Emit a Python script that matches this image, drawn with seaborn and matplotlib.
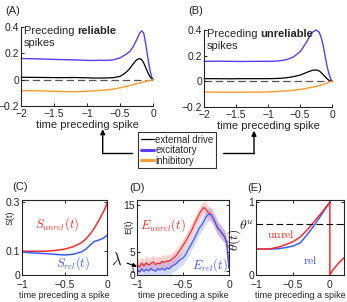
import matplotlib
matplotlib.use("Agg")
import matplotlib.pyplot as plt
from matplotlib.lines import Line2D
from matplotlib.patches import FancyArrowPatch
import seaborn as sns
import numpy as np

# ---- panel A / B : spike-triggered inputs ----
t_ab = [-2.0, -1.8, -1.6, -1.4, -1.2, -1.0, -0.9, -0.8, -0.7, -0.6, -0.5, -0.45,
        -0.4, -0.35, -0.3, -0.25, -0.2, -0.17, -0.14, -0.11, -0.08, -0.05, -0.02, 0.0]
exc_rel = [0.160, 0.158, 0.155, 0.152, 0.150, 0.146, 0.145, 0.147, 0.146, 0.150, 0.165, 0.180,
           0.195, 0.215, 0.250, 0.300, 0.355, 0.370, 0.350, 0.270, 0.170, 0.080, 0.020, 0.0]
ext_rel = [0.018, 0.017, 0.016, 0.015, 0.016, 0.014, 0.012, 0.012, 0.013, 0.015, 0.025, 0.040,
           0.060, 0.085, 0.120, 0.150, 0.160, 0.150, 0.125, 0.090, 0.055, 0.025, 0.007, 0.0]
inh_rel = [-0.085, -0.084, -0.087, -0.090, -0.092, -0.088, -0.085, -0.083, -0.078, -0.072, -0.062, -0.057,
           -0.050, -0.044, -0.038, -0.031, -0.025, -0.021, -0.017, -0.013, -0.009, -0.006, -0.002, 0.0]
exc_unrel = [0.155, 0.156, 0.155, 0.154, 0.155, 0.155, 0.156, 0.160, 0.170, 0.190, 0.230, 0.265,
             0.305, 0.350, 0.385, 0.400, 0.380, 0.340, 0.280, 0.200, 0.120, 0.060, 0.015, 0.0]
ext_unrel = [0.020, 0.020, 0.019, 0.020, 0.020, 0.020, 0.021, 0.023, 0.028, 0.036, 0.048, 0.058,
             0.068, 0.078, 0.086, 0.088, 0.080, 0.068, 0.052, 0.036, 0.020, 0.008, 0.002, 0.0]
inh_unrel = [-0.084, -0.085, -0.086, -0.085, -0.085, -0.083, -0.081, -0.078, -0.074, -0.070, -0.064, -0.060,
             -0.055, -0.050, -0.045, -0.040, -0.034, -0.030, -0.026, -0.020, -0.014, -0.008, -0.003, 0.0]

# ---- panel C : S(t) ----
t_c = [-1.0, -0.9, -0.8, -0.7, -0.6, -0.5, -0.4, -0.3, -0.25, -0.2, -0.15, -0.1, -0.05, -0.02, 0.0]
s_unrel = [0.100, 0.099, 0.099, 0.100, 0.103, 0.108, 0.118, 0.135, 0.150, 0.170, 0.195, 0.225, 0.258, 0.280, 0.300]
s_rel = [0.096, 0.093, 0.091, 0.089, 0.086, 0.084, 0.087, 0.097, 0.108, 0.125, 0.140, 0.145, 0.152, 0.160, 0.165]

# ---- panel D : E(t) ----
t_d = [-1.0, -0.975, -0.95, -0.925, -0.9, -0.875, -0.85, -0.825, -0.8, -0.775,
       -0.75, -0.725, -0.7, -0.675, -0.65, -0.625, -0.6, -0.575, -0.55, -0.525,
       -0.5, -0.475, -0.45, -0.425, -0.4, -0.375, -0.35, -0.325, -0.3, -0.275,
       -0.25, -0.225, -0.2, -0.175, -0.15, -0.125, -0.1, -0.075, -0.05, -0.025, 0.0]
e_unrel = [2.3, 1.8, 2.6, 2.0, 2.7, 2.2, 2.5, 2.9, 2.3, 2.6,
           2.5, 3.0, 2.7, 3.1, 3.0, 3.4, 3.8, 4.2, 4.9, 5.6,
           6.4, 7.1, 8.0, 8.9, 9.8, 11.0, 11.9, 13.0, 13.8, 14.4,
           14.0, 13.3, 13.0, 12.2, 11.2, 10.0, 9.5, 8.9, 8.3, 7.0, 1.5]
e_rel = [1.2, 0.8, 1.4, 0.9, 1.3, 1.0, 1.5, 1.1, 0.9, 1.4,
         1.2, 1.5, 1.1, 1.6, 1.4, 1.9, 2.2, 2.5, 3.0, 3.4,
         3.7, 4.3, 5.3, 6.1, 7.0, 7.9, 8.9, 10.0, 10.6, 11.4,
         12.4, 12.9, 13.0, 12.3, 11.2, 10.2, 9.6, 8.9, 8.2, 6.9, 1.5]
band_d = 1.4

# ---- panel E : theta(t) ----
t_e = [-1.0, -0.9, -0.8, -0.7, -0.6, -0.5, -0.4, -0.3, -0.2, -0.1, 0.0, 0.0, 0.03, 0.07, 0.12, 0.16, 0.19]
th_unrel = [0.36, 0.36, 0.365, 0.385, 0.42, 0.46, 0.525, 0.63, 0.75, 0.87, 1.0, 0.0, 0.06, 0.11, 0.17, 0.21, 0.24]
t_e_rel = [-1.0, -0.9, -0.8, -0.7, -0.6, -0.5, -0.4, -0.3, -0.2, -0.1, 0.0]
th_rel = [0.36, 0.36, 0.36, 0.365, 0.38, 0.40, 0.445, 0.565, 0.70, 0.85, 1.0]
theta_u = 0.7

EXC = "#5b3cff"
INH = "#ff9a2e"
RED = "#ff2a2a"
BLUE = "#3c5cff"

sns.set_style("ticks")
plt.rcParams['font.family'] = ['Liberation Sans', 'DejaVu Sans']
plt.rcParams['mathtext.fontset'] = 'cm'
plt.rcParams['xtick.direction'] = 'in'
plt.rcParams['ytick.direction'] = 'in'
plt.rcParams['xtick.major.size'] = 2.5
plt.rcParams['ytick.major.size'] = 2.5
plt.rcParams['axes.linewidth'] = 0.8

fig = plt.figure(figsize=(3.47, 3.02), dpi=100)


def top_panel(rect, exc, ext, inh, word, tag):
    ax = fig.add_axes(rect)
    sns.lineplot(x=t_ab, y=exc, ax=ax, color=EXC, lw=1.0, estimator=None)
    sns.lineplot(x=t_ab, y=ext, ax=ax, color="black", lw=0.9, estimator=None)
    sns.lineplot(x=t_ab, y=inh, ax=ax, color=INH, lw=1.0, estimator=None)
    ax.axhline(0, color="#555555", lw=0.9, ls=(0, (6, 3)), zorder=0)
    ax.set_xlim(-2, 0)
    ax.set_ylim(-0.2, 0.4)
    ax.set_xticks([-2, -1.5, -1, -0.5, 0])
    ax.set_xticklabels(["\u22122", "\u22121.5", "\u22121", "\u22120.5", "0"])
    ax.set_yticks([-0.2, 0, 0.2, 0.4])
    ax.set_yticklabels(["\u22120.2", "0", "0.2", "0.4"])
    ax.tick_params(labelsize=7.5, pad=1.5, width=0.7)
    ax.tick_params(axis="x", pad=2.5)
    sns.despine(ax=ax)
    for line in ax.get_lines():
        line.set_clip_on(False)
    ax.set_xlabel("time preceding spike", fontsize=8, labelpad=0.5)
    t = ax.text(-1.96, 0.41, "Preceding ", fontsize=8, va="top", ha="left")
    ax.annotate(word, xy=(1, 0), xycoords=t, va="bottom", ha="left",
                fontsize=8, fontweight="bold")
    ax.text(-1.96, 0.275, "spikes", fontsize=8, va="center", ha="left")
    fig.text(rect[0] - 0.045, 0.955, tag, fontsize=8)
    return ax


top_panel([0.061, 0.649, 0.380, 0.262], exc_rel, ext_rel, inh_rel, "reliable", "(A)")
top_panel([0.588, 0.646, 0.369, 0.255], exc_unrel, ext_unrel, inh_unrel, "unreliable", "(B)")

# legend in the middle
h1 = Line2D([], [], color="black", lw=0.9)
h2 = Line2D([], [], color=EXC, lw=2.2)
h3 = Line2D([], [], color=INH, lw=2.2)
leg = fig.legend([h1, h2, h3], ["external drive", "excitatory", "inhibitory"],
                 loc="center", bbox_to_anchor=(0.51, 0.503), fontsize=7,
                 handlelength=1.4, handletextpad=0.1, labelspacing=0.05,
                 borderpad=0.3, frameon=True, fancybox=False)
leg.get_frame().set_edgecolor("black")
leg.get_frame().set_linewidth(0.8)

# arrows from the legend up to panels A and B
for x0, x1, ytop in [(0.381, 0.296, 0.572), (0.642, 0.732, 0.567)]:
    fig.add_artist(Line2D([x0, x1], [0.493, 0.493], color="black", lw=1.0,
                          transform=fig.transFigure))
    fig.add_artist(FancyArrowPatch((x1, 0.491), (x1, ytop), transform=fig.transFigure,
                                   arrowstyle="-|>", color="black", lw=1.0,
                                   mutation_scale=7, shrinkA=0, shrinkB=0))


def bottom_axes(rect):
    ax = fig.add_axes(rect)
    ax.tick_params(labelsize=7.5, pad=1.5, width=0.7, top=True, right=True)
    ax.tick_params(axis="x", pad=3.5)
    ax.set_xticks([-1, -0.5, 0])
    ax.set_xticklabels(["\u22121", "\u22120.5", "0"])
    ax.set_xlabel("time preceding a spike", fontsize=6.5, labelpad=0.5)
    return ax


# (C)
axc = bottom_axes([0.064, 0.088, 0.245, 0.250])
sns.lineplot(x=t_c, y=s_unrel, ax=axc, color=RED, lw=1.1, estimator=None)
sns.lineplot(x=t_c, y=s_rel, ax=axc, color=BLUE, lw=1.1, estimator=None)
axc.set_xlim(-1, 0)
axc.set_ylim(0, 0.31)
axc.set_yticks([0, 0.1, 0.3])
axc.set_yticklabels(["0", "0.1", "0.3"])
axc.set_ylabel("S(t)", fontsize=6.5)
axc.yaxis.set_label_coords(-0.09, 0.76)
axc.text(-0.59, 0.21, r"$S_{unrel}(t)$", color=RED, fontsize=9, ha="center", va="center")
axc.text(-0.4, 0.05, r"$S_{rel}(t)$", color=BLUE, fontsize=9, ha="center", va="center")
fig.text(0.035, 0.372, "(C)", fontsize=8)

# (D)
axd = bottom_axes([0.395, 0.088, 0.265, 0.250])
axd.fill_between(t_d, np.array(e_unrel) - band_d, np.array(e_unrel) + band_d,
                 color=RED, alpha=0.22, lw=0)
axd.fill_between(t_d, np.array(e_rel) - band_d, np.array(e_rel) + band_d,
                 color=BLUE, alpha=0.22, lw=0)
sns.lineplot(x=t_d, y=e_unrel, ax=axd, color=RED, lw=0.9, estimator=None)
sns.lineplot(x=t_d, y=e_rel, ax=axd, color=BLUE, lw=0.9, estimator=None)
axd.set_xlim(-1, 0)
axd.set_ylim(0, 16)
axd.set_yticks([0, 1, 5, 15])
axd.set_yticklabels(["0", "1", "5", "15"])
axd.get_yticklabels()[1].set_fontsize(5.5)
axd.set_ylabel("E(t)", fontsize=6.5)
axd.yaxis.set_label_coords(-0.04, 0.64)
axd.text(-0.72, 10.7, r"$E_{unrel}(t)$", color=RED, fontsize=9, ha="center", va="center")
axd.text(-0.21, 2.1, r"$E_{rel}(t)$", color=BLUE, fontsize=9, ha="center", va="center")
axd.annotate(r"$\lambda$", xy=(-1.0, 1.9), xytext=(-1.22, 3.3), fontsize=12,
             annotation_clip=False, ha="center", va="center",
             arrowprops=dict(arrowstyle="-|>", color="black", lw=0.8,
                             mutation_scale=6, shrinkA=1, shrinkB=0))
fig.text(0.372, 0.368, "(D)", fontsize=8)

# (E)
axe = bottom_axes([0.738, 0.088, 0.253, 0.250])
sns.lineplot(x=t_e_rel, y=th_rel, ax=axe, color=BLUE, lw=1.1, estimator=None, sort=False)
sns.lineplot(x=t_e, y=th_unrel, ax=axe, color=RED, lw=1.1, estimator=None, sort=False)
axe.axhline(theta_u, color="black", lw=0.8, ls=(0, (6, 3)))
axe.set_xlim(-1, 0.19)
axe.set_ylim(0, 1.03)
axe.set_yticks([0, theta_u, 1])
axe.set_yticklabels(["0", r"$\theta^u$", "1"])
axe.get_yticklabels()[1].set_fontsize(10)
axe.set_ylabel(r"$\theta(t)$", fontsize=10)
axe.yaxis.set_label_coords(-0.15, 0.47)
axe.text(-0.66, 0.55, r"$\mathrm{unrel}$", color=RED, fontsize=8.5, ha="center", va="center")
axe.text(-0.26, 0.19, r"$\mathrm{rel}$", color=BLUE, fontsize=8.5, ha="center", va="center")
fig.text(0.712, 0.366, "(E)", fontsize=8)

fig.savefig("out.png", dpi=100)
